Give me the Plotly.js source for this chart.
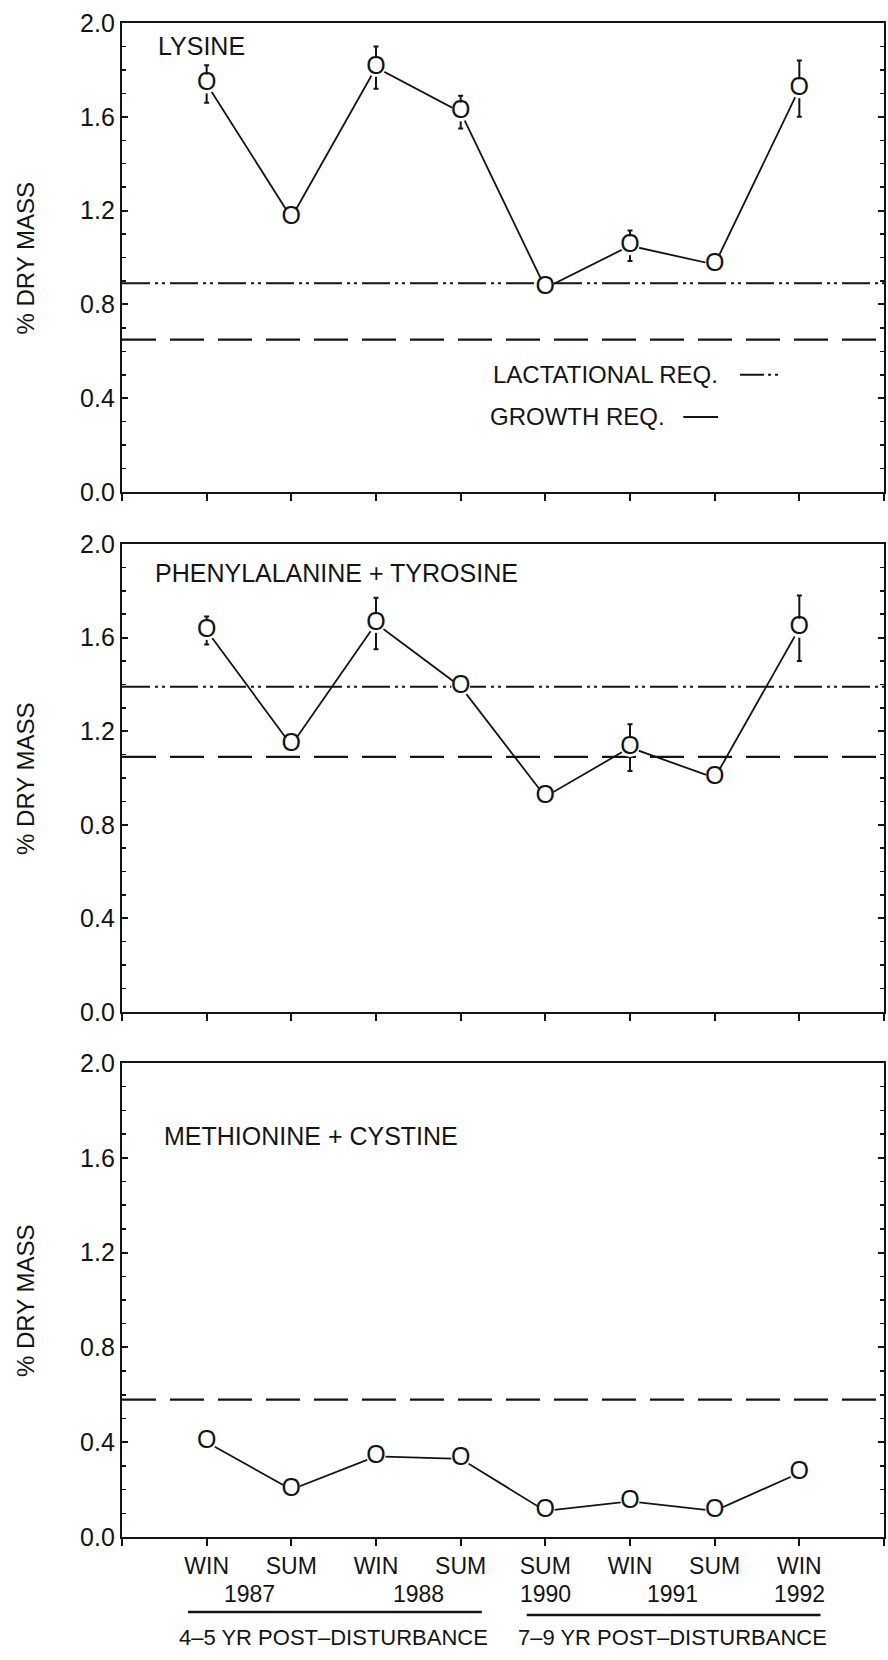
<!DOCTYPE html>
<html>
<head>
<meta charset="utf-8">
<script src="https://cdn.plot.ly/plotly-3.0.1.min.js"></script>
<style>html,body{margin:0;padding:0;background:#fff;}#chart{width:888px;height:1660px;}</style>
</head>
<body>
<div id="chart"></div>
<script>
// ---- data ----
const categories = ['WIN', 'SUM', 'WIN', 'SUM', 'SUM', 'WIN', 'SUM', 'WIN'];
const years = ['1987', '1988', '1990', '1991', '1992'];
const yearSpans = [[1, 2], [3, 4], [5, 5], [6, 7], [8, 8]];           // category numbers covered by each year label
const groupLabels = ['4\u20135 YR POST\u2013DISTURBANCE', '7\u20139 YR POST\u2013DISTURBANCE'];
const groupSpans = [[1, 4], [5, 8]];

const panelNames = ['LYSINE', 'PHENYLALANINE + TYROSINE', 'METHIONINE + CYSTINE'];
const lysine     = [1.74, 1.17, 1.81, 1.62, 0.87, 1.05, 0.97, 1.72];
const lysineErr  = [0.08, 0, 0.09, 0.07, 0, 0.065, 0, 0.12];
const pheTyr     = [1.63, 1.14, 1.66, 1.39, 0.92, 1.13, 1.00, 1.64];
const pheTyrErr  = [0.06, 0, 0.11, 0, 0, 0.10, 0, 0.14];
const metCys     = [0.40, 0.20, 0.34, 0.33, 0.11, 0.15, 0.11, 0.27];
const metCysErr  = [0, 0, 0, 0, 0, 0, 0, 0];
const lactReq    = [0.89, 1.39, null];
const growthReq  = [0.65, 1.09, 0.58];
const legendLabels = ['LACTATIONAL REQ.', 'GROWTH REQ.'];
const yTickVals = [0, 0.4, 0.8, 1.2, 1.6, 2.0];

// ---- build ----
const FONT = 'Liberation Sans, Arial, sans-serif';
const INK = '#141414';
const xPos = categories.map((c, i) => i + 1);
const xMin = 0, xMax = categories.length + 1;
const series = [lysine, pheTyr, metCys];
const errs = [lysineErr, pheTyrErr, metCysErr];
const axSuffix = ['', '2', '3'];
const domains = [[0.6902, 1.0], [0.3468, 0.6559], [0.0, 0.3131]];

const LACT_DASH = '28px,5px,3px,4px,3px,5px';
const GROW_DASH = '34px,14px';

const traces = [];
series.forEach((vals, p) => {
  const xa = 'x' + axSuffix[p], ya = 'y' + axSuffix[p];
  if (lactReq[p] !== null) {
    traces.push({x: [xMin, xMax], y: [lactReq[p], lactReq[p]], xaxis: xa, yaxis: ya, mode: 'lines',
      line: {color: INK, width: 2, dash: LACT_DASH}, hoverinfo: 'skip', showlegend: false});
  }
  traces.push({x: [xMin, xMax], y: [growthReq[p], growthReq[p]], xaxis: xa, yaxis: ya, mode: 'lines',
    line: {color: INK, width: 2.2, dash: GROW_DASH}, hoverinfo: 'skip', showlegend: false});
  traces.push({
    x: xPos, y: vals, xaxis: xa, yaxis: ya, mode: 'lines+markers+text',
    text: vals.map(() => 'O'), textposition: 'middle center',
    textfont: {family: FONT, size: 25, color: INK},
    line: {color: INK, width: 1.8},
    marker: {size: 19, color: '#ffffff', line: {width: 0}},
    error_y: {type: 'data', array: errs[p], arrayminus: errs[p], visible: true,
      color: INK, thickness: 2, width: 2.5},
    showlegend: false, cliponaxis: false
  });
});

const layout = {
  width: 888, height: 1660,
  margin: {l: 122, r: 4, t: 23, b: 123},
  paper_bgcolor: '#ffffff', plot_bgcolor: '#ffffff',
  font: {family: FONT, color: INK, size: 24},
  showlegend: false,
  annotations: [], shapes: []
};

for (let p = 0; p < 3; p++) {
  const s = axSuffix[p];
  const isLast = p === 2;
  layout['xaxis' + s] = {
    domain: [0, 1], anchor: 'y' + s, range: [xMin, xMax],
    tickmode: 'array', tickvals: [xMin, ...xPos, xMax], ticktext: ['', ...categories, ''],
    showticklabels: isLast, ticks: 'outside', ticklen: 7, tickwidth: 2, tickcolor: INK,
    showline: true, linecolor: INK, linewidth: 2.2, mirror: true,
    showgrid: false, zeroline: false, fixedrange: true,
    tickfont: {family: FONT, size: 23, color: INK}
  };
  layout['yaxis' + s] = {
    domain: domains[p], anchor: 'x' + s, range: [0, 2.0],
    tickmode: 'array', tickvals: yTickVals, tickformat: '.1f',
    ticks: 'inside', ticklen: 6, tickwidth: 2, tickcolor: INK,
    minor: {dtick: 0.1, ticks: 'inside', ticklen: 4, tickwidth: 1.5, tickcolor: INK},
    showline: true, linecolor: INK, linewidth: 2.2, mirror: 'ticks',
    showgrid: false, zeroline: false, fixedrange: true,
    tickfont: {family: FONT, size: 25, color: INK}
  };
  // y title
  layout.annotations.push({
    text: '% DRY MASS', xref: 'paper', yref: 'y' + s + ' domain', x: -0.126, y: 0.5,
    xanchor: 'center', yanchor: 'middle', textangle: -90, showarrow: false,
    font: {family: FONT, size: 24, color: INK}
  });
}

// panel names
const nameAt = [[0.40, 1.90], [0.37, 1.876], [0.47, 1.69]];
panelNames.forEach((n, p) => {
  layout.annotations.push({
    text: n, xref: 'x' + axSuffix[p], yref: 'y' + axSuffix[p], x: nameAt[p][0], y: nameAt[p][1],
    xanchor: 'left', yanchor: 'middle', showarrow: false,
    font: {family: FONT, size: 25, color: INK}
  });
});

// legend text + sample lines (top panel)
const legY = [0.50, 0.32];
const legTextRight = [7.06, 6.44];
const legSample = [[7.30, 7.79], [6.63, 7.04]];
const legDash = ['24px,4px,3px,4px,3px,30px', 'solid'];
legendLabels.forEach((t, i) => {
  layout.annotations.push({
    text: t, xref: 'x', yref: 'y', x: legTextRight[i], y: legY[i], xanchor: 'right', yanchor: 'middle',
    showarrow: false, font: {family: FONT, size: 24, color: INK}
  });
  layout.shapes.push({
    type: 'line', xref: 'x', yref: 'y', x0: legSample[i][0], x1: legSample[i][1], y0: legY[i], y1: legY[i],
    line: {color: INK, width: 2, dash: legDash[i]}
  });
});

// year labels under bottom panel
years.forEach((yr, i) => {
  const xc = (yearSpans[i][0] + yearSpans[i][1]) / 2;
  layout.annotations.push({
    text: yr, xref: 'x3', yref: 'paper', x: xc, y: -0.0375, xanchor: 'center', yanchor: 'middle',
    showarrow: false, font: {family: FONT, size: 23, color: INK}
  });
});

// group labels with underline
groupLabels.forEach((g, i) => {
  const a = groupSpans[i][0], b = groupSpans[i][1];
  layout.shapes.push({
    type: 'line', xref: 'x3', yref: 'paper', x0: a - 0.22, x1: b + 0.25, y0: -0.0495 - i * 0.002, y1: -0.0495 - i * 0.002,
    line: {color: INK, width: 2.5}
  });
  layout.annotations.push({
    text: g, xref: 'x3', yref: 'paper', x: (a + b) / 2, y: -0.0665, xanchor: 'center', yanchor: 'middle',
    showarrow: false, font: {family: FONT, size: 22, color: INK}
  });
});

Plotly.newPlot('chart', traces, layout, {staticPlot: true, displayModeBar: false});
</script>
</body>
</html>
